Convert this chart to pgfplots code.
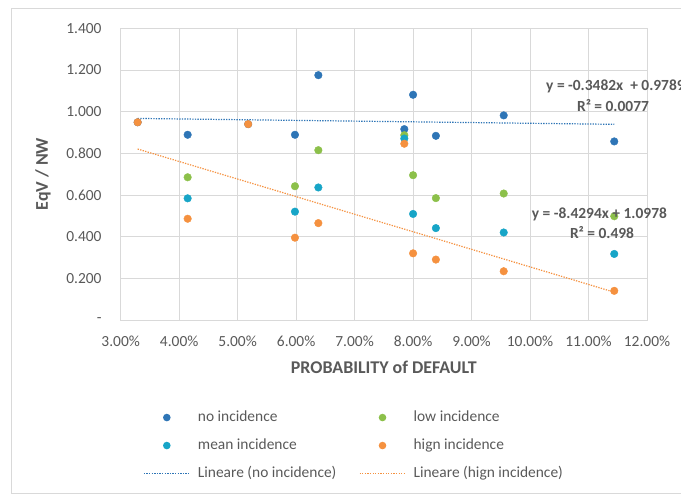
\documentclass[border=0pt]{standalone}
\usepackage{pgfplots}
\pgfplotsset{compat=1.18}
\usepackage{fontspec}
\setmainfont{Carlito}
\definecolor{cNo}{HTML}{2E75B6}
\definecolor{cLow}{HTML}{8CC04A}
\definecolor{cMean}{HTML}{17A5C7}
\definecolor{cHigh}{HTML}{F5913F}
\definecolor{txt}{HTML}{595959}
\definecolor{gridc}{HTML}{D9D9D9}
\pgfplotsset{
  markleg/.style={legend image code/.code={%
      \path[draw=none, fill=none] (0bp,0bp) -- (46bp,0bp);
      \fill[#1, draw=none] (23bp,0bp) circle (3.8bp);}},
  lineleg/.style={legend image code/.code={%
      \draw[##1] (0bp,0bp) -- (46bp,0bp);}},
  dotstyle/.style={only marks, mark=*, mark size=3.8bp, mark options={draw=#1, fill=#1}, color=#1, markleg=#1},
}
\begin{document}
\begin{tikzpicture}
\useasboundingbox (0bp,0bp) rectangle (681bp,498bp);
\draw[gridc, line width=0.8bp] (11bp,5bp) rectangle (700bp,490bp);
\begin{axis}[
  at={(120.7bp,178bp)}, anchor=south west, scale only axis,
  width=526.3bp, height=291.7bp,
  xmin=3, xmax=12, ymin=0, ymax=1.4,
  xtick={3,4,5,6,7,8,9,10,11,12},
  xticklabels={3.00\%,4.00\%,5.00\%,6.00\%,7.00\%,8.00\%,9.00\%,10.00\%,11.00\%,12.00\%},
  ytick={0,0.2,0.4,0.6,0.8,1.0,1.2,1.4},
  yticklabels={-\hspace{8bp},0.200,0.400,0.600,0.800,1.000,1.200,1.400},
  /pgf/number format/assume math mode=true,
  grid=major, major grid style={gridc, line width=0.75bp},
  axis line style={gridc, line width=0.75bp},
  major tick length=0pt, tick style={draw=none},
  ticklabel style={font=\fontsize{15.5}{18}\selectfont, text=txt},
  xticklabel style={inner sep=0pt, yshift=-16bp},
  yticklabel style={inner sep=0pt, xshift=-19bp},
  xlabel={PROBABILITY of DEFAULT}, ylabel={EqV / NW},
  label style={font=\bfseries\fontsize{18}{21}\selectfont, text=txt},
  xlabel style={at={(axis description cs:0.5,0)}, anchor=center, yshift=-47bp},
  ylabel style={at={(axis description cs:-0.1476,0.5)}, anchor=center},
  clip=false,
  legend columns=2,
  legend cell align=left,
  legend style={draw=none, fill=none, inner sep=0pt,
    at={(0.0424,-0.308)}, anchor=north west,
    font=\fontsize{15.5}{18}\selectfont, text=txt,
    row sep=13bp,
    nodes={inner sep=0pt, text height=11bp, text depth=4bp},
    /tikz/every odd column/.append style={column sep=7.5bp}},
]
% no incidence
\addplot[dotstyle=cNo] coordinates {
  (3.29,0.949) (4.145,0.889) (5.18,0.940) (5.98,0.889) (6.38,1.175) (7.85,0.916)
  (8.00,1.081) (8.39,0.884) (9.55,0.982) (11.44,0.857)};
\addlegendentry{\makebox[161bp][l]{no incidence}}
% low incidence
\addplot[dotstyle=cLow] coordinates {
  (4.145,0.685) (5.98,0.642) (6.38,0.815) (7.85,0.887) (8.00,0.695)
  (8.39,0.585) (9.55,0.607) (11.44,0.498)};
\addlegendentry{low incidence}
% mean incidence
\addplot[dotstyle=cMean] coordinates {
  (4.145,0.584) (5.98,0.520) (6.38,0.636) (7.85,0.871) (8.00,0.509)
  (8.39,0.441) (9.55,0.420) (11.44,0.317)};
\addlegendentry{\makebox[161bp][l]{mean incidence}}
% high incidence
\addplot[dotstyle=cHigh] coordinates {
  (3.29,0.949) (4.145,0.486) (5.18,0.940) (5.98,0.395) (6.38,0.465) (7.85,0.846)
  (8.00,0.320) (8.39,0.290) (9.55,0.234) (11.44,0.140)};
\addlegendentry{hign incidence}
% trend lines
\addplot[cNo, line width=1.2bp, dash pattern=on 1.3bp off 1.3bp, lineleg] coordinates {(3.29,0.9674) (11.44,0.9391)};
\addlegendentry{\makebox[161bp][l]{Lineare (no incidence)}}
\addplot[cHigh, line width=1.2bp, dash pattern=on 1.3bp off 1.3bp, lineleg] coordinates {(3.29,0.8205) (11.44,0.1335)};
\addlegendentry{Lineare (hign incidence)}
\end{axis}
\begin{scope}[every node/.style={font=\bfseries\fontsize{15.5}{18}\selectfont, text=txt, inner sep=0pt}]
\node[anchor=west] at (546bp,412bp) {y = -0.3482x\ \ + 0.9789};
\node at (613bp,392.3bp) {R² = 0.0077};
\node[anchor=west] at (531.7bp,284bp) {y = -8.4294x + 1.0978};
\node at (602bp,265.3bp) {R² = 0.498};
\end{scope}
\end{tikzpicture}
\end{document}
